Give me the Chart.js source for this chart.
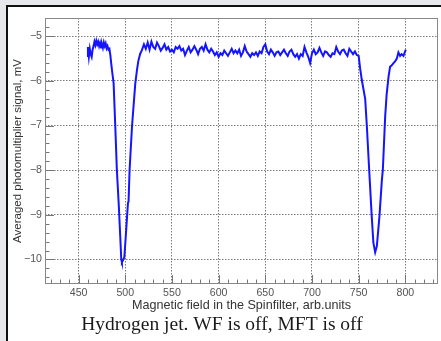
<!DOCTYPE html>
<html>
<head>
<meta charset="utf-8">
<script src="https://cdn.jsdelivr.net/npm/chart.js@4.4.1/dist/chart.umd.min.js"></script>
<style>
  html, body { margin: 0; padding: 0; background: #e6e8ec; }
  #wrap { width: 441px; height: 341px; }
</style>
</head>
<body>
<div id="wrap"><canvas id="scan" width="441" height="341"></canvas></div>
<script>
// Spin-filter field scan (arb. units) vs averaged PMT signal (mV)
const fieldValues = [
  459, 460, 461, 462, 463, 464, 465, 466, 467, 468, 469, 470, 471, 472, 473, 474,
  475, 476, 477, 478, 479, 480, 481, 482, 483, 484, 485, 486, 487.5, 489.3, 491,
  492.9, 494.6, 495.7, 496.4, 497.5, 499, 501, 502.9, 503.5, 504.6, 507.2, 510.7,
  512.5, 514, 516, 517.8,
  520, 522, 524, 526, 528, 530, 532, 534, 536, 538, 540, 542, 544, 546, 548,
  550, 552, 554, 556, 558, 560, 562, 564, 566, 568, 570, 572, 574, 576, 578,
  580, 582, 584, 586, 588, 590, 592, 594, 596, 598, 600, 602, 604, 606, 608,
  610, 612, 614, 616, 618, 620, 622, 624, 626, 628, 630, 632, 634, 636, 638,
  640, 642, 644, 646, 648, 650, 652, 654, 656, 658, 660, 662, 664, 666, 668,
  670, 672, 674, 676, 678, 680, 682, 684, 686, 688, 690, 692, 694, 696, 698,
  700, 702, 704, 706, 708, 710, 712, 714, 716, 718, 720, 722, 724, 726, 728,
  730, 732, 734, 736, 738, 740, 742, 744, 746, 748, 750,
  751.6, 753.4, 757, 758.8, 761.3, 764, 765.8, 767.7, 769.5, 772.3, 774.9, 775.9,
  778.4, 780, 782, 783.7, 785, 787.3, 789, 790.9, 792.6, 794.4, 796, 798, 799, 800.5
];
const signalValues = [
  -5.44, -5.24, -5.46, -5.28, -5.40, -5.46, -5.30, -5.22, -5.12, -5.20, -5.10, -5.18, -5.12, -5.22, -5.15, -5.25,
  -5.18, -5.26, -5.14, -5.22, -5.16, -5.27, -5.22, -5.30, -5.28, -5.42, -5.62, -5.80, -6.05, -7.02, -8.00,
  -8.73, -9.48, -10.00, -10.06, -10.02, -9.95, -9.33, -8.73, -8.70, -8.00, -7.02, -6.06,
  -5.76, -5.55, -5.39, -5.31,
  -5.18, -5.28, -5.14, -5.30, -5.12, -5.24, -5.28, -5.14, -5.22, -5.32, -5.26, -5.18, -5.30, -5.24, -5.34,
  -5.30, -5.36, -5.24, -5.28, -5.22, -5.32, -5.28, -5.42, -5.32, -5.24, -5.36, -5.30, -5.22, -5.30, -5.40,
  -5.28, -5.24, -5.32, -5.18, -5.30, -5.36, -5.28, -5.34, -5.42, -5.36, -5.46, -5.38, -5.42, -5.32, -5.38,
  -5.44, -5.36, -5.28, -5.38, -5.32, -5.38, -5.30, -5.44, -5.36, -5.22, -5.34, -5.40, -5.46, -5.38, -5.42,
  -5.36, -5.44, -5.34, -5.38, -5.24, -5.18, -5.34, -5.40, -5.30, -5.36, -5.44, -5.36, -5.34, -5.42, -5.36,
  -5.30, -5.38, -5.44, -5.34, -5.30, -5.40, -5.46, -5.40, -5.50, -5.40, -5.44, -5.24, -5.36, -5.46, -5.60,
  -5.38, -5.30, -5.40, -5.36, -5.26, -5.36, -5.44, -5.34, -5.36, -5.42, -5.46, -5.38, -5.40, -5.24, -5.34,
  -5.40, -5.32, -5.30, -5.38, -5.44, -5.28, -5.34, -5.40, -5.34, -5.42, -5.44,
  -5.72, -5.98, -6.40, -7.02, -8.00, -9.03, -9.63, -9.84, -9.70, -9.03, -8.21, -8.00,
  -6.80, -6.30, -5.91, -5.68, -5.66, -5.60, -5.56, -5.50, -5.36, -5.44, -5.40, -5.44, -5.38, -5.30
];
const xTicks = [450, 500, 550, 600, 650, 700, 750, 800];
const yTicks = [-10, -9, -8, -7, -6, -5];

const xTitle = 'Magnetic field in the Spinfilter, arb.units';
const yTitle = 'Averaged photomultiplier signal, mV';
const caption = 'Hydrogen jet. WF is off, MFT is off';

const axisGray = '#555';
const gridGray = '#7a7a7a';

// grey screenshot margin, white panel with a dark edge, caption underneath
const panelPlugin = {
  id: 'panel',
  beforeDraw(chart) {
    const ctx = chart.ctx;
    ctx.save();
    ctx.fillStyle = '#e6e8ec';
    ctx.fillRect(0, 0, chart.width, chart.height);
    ctx.fillStyle = '#ffffff';
    ctx.fillRect(7, 5, chart.width - 7, chart.height - 5);
    ctx.fillStyle = '#111';
    ctx.fillRect(6, 5, chart.width - 6, 2);
    ctx.fillRect(6, 5, 2, chart.height - 5);
    ctx.restore();
  },
  afterDraw(chart) {
    const ctx = chart.ctx;
    ctx.save();
    ctx.fillStyle = '#1a1a1a';
    ctx.font = '19.5px "Liberation Serif", "Times New Roman", serif';
    ctx.textAlign = 'center';
    ctx.textBaseline = 'middle';
    ctx.fillText(caption, 222, 325);
    ctx.restore();
  }
};

// ROOT-style frame with ticks pointing inwards
const frameTicksPlugin = {
  id: 'frameTicks',
  afterDatasetsDraw(chart) {
    const { ctx, chartArea: a, scales: { x, y } } = chart;
    ctx.save();
    ctx.strokeStyle = '#777';
    ctx.lineWidth = 1;
    ctx.beginPath();
    for (let v = Math.ceil(x.min / 10) * 10; v <= x.max; v += 10) {
      const px = Math.round(x.getPixelForValue(v)) + 0.5;
      const len = v % 50 === 0 ? 9 : 4.5;
      ctx.moveTo(px, a.bottom);
      ctx.lineTo(px, a.bottom - len);
    }
    for (let i = Math.ceil(y.min * 5); i <= Math.floor(y.max * 5); i++) {
      const py = Math.round(y.getPixelForValue(i / 5)) + 0.5;
      const len = i % 5 === 0 ? 9 : 4.5;
      ctx.moveTo(a.left, py);
      ctx.lineTo(a.left + len, py);
    }
    ctx.stroke();
    ctx.strokeStyle = '#888';
    ctx.strokeRect(a.left + 0.5, a.top + 0.5, a.right - a.left - 1, a.bottom - a.top - 1);
    ctx.restore();
  }
};

new Chart(document.getElementById('scan').getContext('2d'), {
  type: 'line',
  data: {
    datasets: [{
      data: fieldValues.map((f, i) => ({ x: f, y: signalValues[i] })),
      borderColor: '#1414ff',
      borderWidth: 2,
      pointRadius: 0,
      tension: 0,
      fill: false
    }]
  },
  options: {
    responsive: false,
    animation: false,
    devicePixelRatio: 1,
    layout: { padding: { left: 0, right: 3, top: 18, bottom: 0 } },
    plugins: {
      legend: { display: false },
      tooltip: { enabled: false }
    },
    scales: {
      x: {
        type: 'linear',
        min: 414,
        max: 835,
        afterFit: s => { s.height = 57; },
        afterBuildTicks: s => { s.ticks = xTicks.map(v => ({ value: v })); },
        grid: { color: gridGray, lineWidth: 1, drawTicks: false },
        border: { display: false, dash: [1.5, 1.5] },
        ticks: {
          color: axisGray,
          padding: 3,
          maxRotation: 0,
          font: { family: '"Liberation Sans", Arial, sans-serif', size: 10.6 }
        },
        title: {
          display: true,
          text: xTitle,
          color: '#333',
          padding: { top: 0, bottom: 28 },
          font: { family: '"Liberation Sans", Arial, sans-serif', size: 12.6 }
        }
      },
      y: {
        type: 'linear',
        min: -10.55,
        max: -4.59,
        afterFit: s => { s.width = 45; },
        afterBuildTicks: s => { s.ticks = yTicks.map(v => ({ value: v })); },
        grid: { color: gridGray, lineWidth: 1, drawTicks: false },
        border: { display: false, dash: [1.5, 1.5] },
        ticks: {
          color: axisGray,
          padding: 3,
          callback: v => '\u2212' + Math.abs(v),
          font: { family: '"Liberation Sans", Arial, sans-serif', size: 10.6 }
        },
        title: {
          display: true,
          text: yTitle,
          color: '#333',
          padding: { top: 11, bottom: 0 },
          font: { family: '"Liberation Sans", Arial, sans-serif', size: 11.5 }
        }
      }
    }
  },
  plugins: [panelPlugin, frameTicksPlugin]
});
</script>
</body>
</html>
